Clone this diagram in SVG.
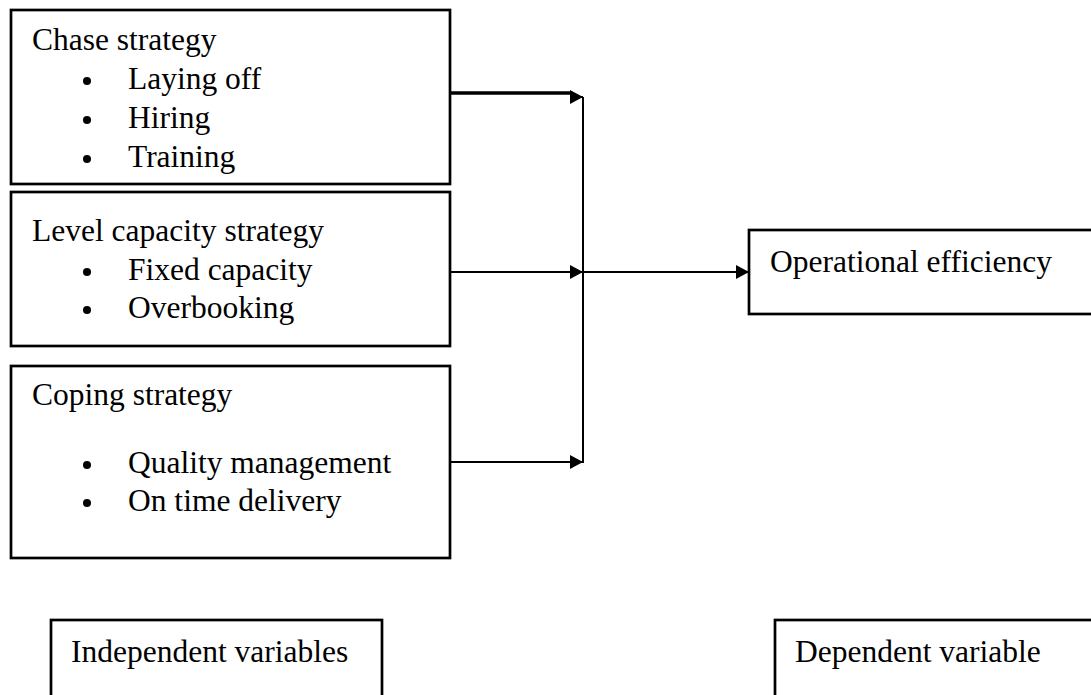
<svg xmlns="http://www.w3.org/2000/svg" width="1091" height="695" viewBox="0 0 1091 695">
<defs>
<marker id="ah" markerUnits="userSpaceOnUse" markerWidth="14" markerHeight="14" refX="13" refY="7" orient="auto">
<path d="M0,0 L13,7 L0,14 Z" fill="#000"/>
</marker>
<style>
.box{fill:#fff;stroke:#000;stroke-width:2.7}
.t{font-family:"Liberation Serif","Times New Roman",serif;font-size:31.5px;fill:#000}
.c{fill:none;stroke:#000;stroke-width:2}
</style>
</defs>
<rect width="1091" height="695" fill="#fff"/>
<g id="chase">
<rect class="box" x="11" y="10" width="439" height="174"/>
<text class="t" x="32" y="50">Chase strategy</text>
<circle cx="87" cy="81" r="4"/><text class="t" x="128" y="89">Laying off</text>
<circle cx="87" cy="120" r="4"/><text class="t" x="128" y="128">Hiring</text>
<circle cx="87" cy="159" r="4"/><text class="t" x="128" y="167">Training</text>
</g>
<g id="level">
<rect class="box" x="11" y="192" width="439" height="154"/>
<text class="t" x="32" y="241">Level capacity strategy</text>
<circle cx="87" cy="272" r="4"/><text class="t" x="128" y="280">Fixed capacity</text>
<circle cx="87" cy="310" r="4"/><text class="t" x="128" y="318">Overbooking</text>
</g>
<g id="coping">
<rect class="box" x="11" y="366" width="439" height="192"/>
<text class="t" x="32" y="405">Coping strategy</text>
<circle cx="87" cy="465" r="4"/><text class="t" x="128" y="473">Quality management</text>
<circle cx="87" cy="503" r="4"/><text class="t" x="128" y="511">On time delivery</text>
</g>
<g id="operational">
<rect class="box" x="749" y="230" width="360" height="84"/>
<text class="t" x="770" y="272">Operational efficiency</text>
</g>
<g id="independent">
<rect class="box" x="51" y="620" width="331" height="100"/>
<text class="t" x="71" y="662">Independent variables</text>
</g>
<g id="dependent">
<rect class="box" x="775" y="620" width="330" height="100"/>
<text class="t" x="795" y="662">Dependent variable</text>
</g>
<g id="connectors">
<path d="M450,93 L572,93" stroke="#000" stroke-width="3.5" fill="none"/>
<path class="c" d="M570,97 L583,97" marker-end="url(#ah)"/>
<path class="c" d="M583,97 L583,463"/>
<path class="c" d="M450,272 L583,272" marker-end="url(#ah)"/>
<path class="c" d="M583,272 L749,272" marker-end="url(#ah)"/>
<path class="c" d="M450,462 L583,462" marker-end="url(#ah)"/>
</g>
</svg>
